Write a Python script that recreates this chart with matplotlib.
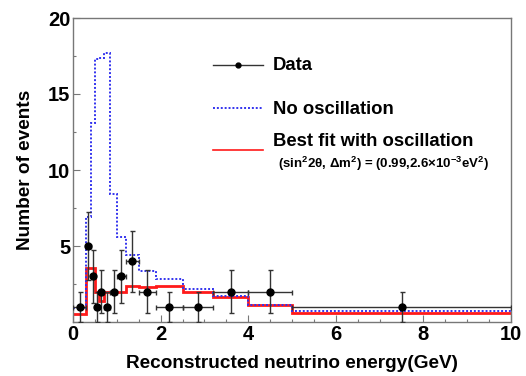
import numpy as np
import matplotlib
matplotlib.use("Agg")
import matplotlib.pyplot as plt
from matplotlib.lines import Line2D

plt.rcParams['font.family'] = ['Liberation Sans', 'DejaVu Sans']
plt.rcParams['font.weight'] = 'bold'
plt.rcParams['mathtext.fontset'] = 'custom'
plt.rcParams['mathtext.rm'] = 'Liberation Sans:bold'
plt.rcParams['mathtext.it'] = 'Liberation Sans:bold'
plt.rcParams['mathtext.bf'] = 'Liberation Sans:bold'

# Bin edges (GeV)
bin_edges = [0.0, 0.3, 0.4, 0.5, 0.6, 0.7, 0.85, 1.0, 1.2, 1.5, 1.9, 2.5, 3.2, 4.0, 5.0, 10.0]
# Observed events per bin
data_counts = [1, 5, 3, 1, 2, 1, 2, 3, 4, 2, 1, 1, 2, 2, 1]
# Expectation without oscillation
no_osc = [0.95, 6.9, 13.1, 17.3, 17.4, 17.7, 8.45, 5.6, 4.4, 3.35, 2.85, 2.2, 1.68, 1.15, 0.7]
# Best fit with oscillation
best_fit = [0.55, 3.55, 3.55, 1.96, 1.4, 1.96, 1.96, 1.96, 2.4, 2.29, 2.36, 1.96, 1.63, 1.13, 0.58]

x_ticks = [0, 2, 4, 6, 8, 10]
y_ticks = [5, 10, 15, 20]

W, H = 526, 376
fig = plt.figure(figsize=(W / 100, H / 100), dpi=100)
ax = fig.add_axes([73 / W, 54 / H, 438 / W, 304 / H])

edges = np.array(bin_edges)
centers = 0.5 * (edges[:-1] + edges[1:])
half = 0.5 * (edges[1:] - edges[:-1])
counts = np.array(data_counts, dtype=float)

ax.stairs(best_fit, edges, baseline=None, color='#ff1a1a', lw=2.0, zorder=2)
ax.stairs(no_osc, edges, baseline=None, color='#3333ee', lw=1.4,
          linestyle=(0, (1, 1)), zorder=3)
ax.errorbar(centers, counts, xerr=half, yerr=np.sqrt(counts), fmt='o',
            color='black', ecolor='#333333', elinewidth=1.0, capsize=1.8,
            capthick=1.0, markersize=5, zorder=4)

ax.set_xlim(0, 10)
ax.set_ylim(0, 20)
ax.set_xticks(x_ticks)
ax.set_xticklabels([str(t) for t in x_ticks])
ax.set_yticks([0] + y_ticks)
ax.set_yticklabels([''] + [str(t) for t in y_ticks])
ax.set_xticks(np.arange(0, 10.01, 0.5), minor=True)
ax.set_yticks(np.arange(0, 20.01, 2.5), minor=True)
ax.tick_params(axis='both', which='major', direction='in', length=5, width=0.8,
               color='#777777', labelsize=14.5, pad=2)
ax.tick_params(axis='both', which='minor', direction='in', length=2.5, width=0.8,
               color='#777777')
for lab in ax.get_xticklabels() + ax.get_yticklabels():
    lab.set_fontweight('bold')
for sp in ax.spines.values():
    sp.set_color('#777777')
    sp.set_linewidth(1.0)

ax.set_xlabel('Reconstructed neutrino energy(GeV)', fontsize=13.7, fontweight='bold')
ax.set_ylabel('Number of events', fontsize=13.7, fontweight='bold')
ax.xaxis.set_label_coords(0.5, -0.108)
ax.yaxis.set_label_coords(-0.09, 0.5)

# Legend (drawn manually)
t = ax.transAxes
def fx(px):
    return (px - 73) / 438
def fy(py):
    return (322 - py) / 304

ax.add_line(Line2D([fx(213), fx(263)], [fy(65), fy(65)], transform=t, color='#333333', lw=1.0))
ax.add_line(Line2D([fx(238)], [fy(65)], transform=t, color='black', marker='o', markersize=3.5, lw=0))
ax.text(fx(273), fy(65), 'Data', transform=t, fontsize=13.3, fontweight='bold', va='center', ha='left')

ax.add_line(Line2D([fx(213), fx(263)], [fy(108), fy(108)], transform=t, color='#3333ee', lw=1.4,
                   linestyle=(0, (1, 1))))
ax.text(fx(273), fy(109), 'No oscillation', transform=t, fontsize=13.3, fontweight='bold', va='center', ha='left')

ax.add_line(Line2D([fx(213), fx(263)], [fy(150), fy(150)], transform=t, color='#ff1a1a', lw=1.2))
ax.text(fx(273), fy(142), 'Best fit with oscillation', transform=t, fontsize=13.3, fontweight='bold',
        va='center', ha='left')
ax.text(fx(278), fy(164), r'(sin$^{2}$2θ, Δm$^{2}$) = (0.99,2.6×10$^{-3}$eV$^{2}$)', transform=t,
        fontsize=9.5, fontweight='bold', va='center', ha='left')

fig.savefig('out.png', dpi=100)
